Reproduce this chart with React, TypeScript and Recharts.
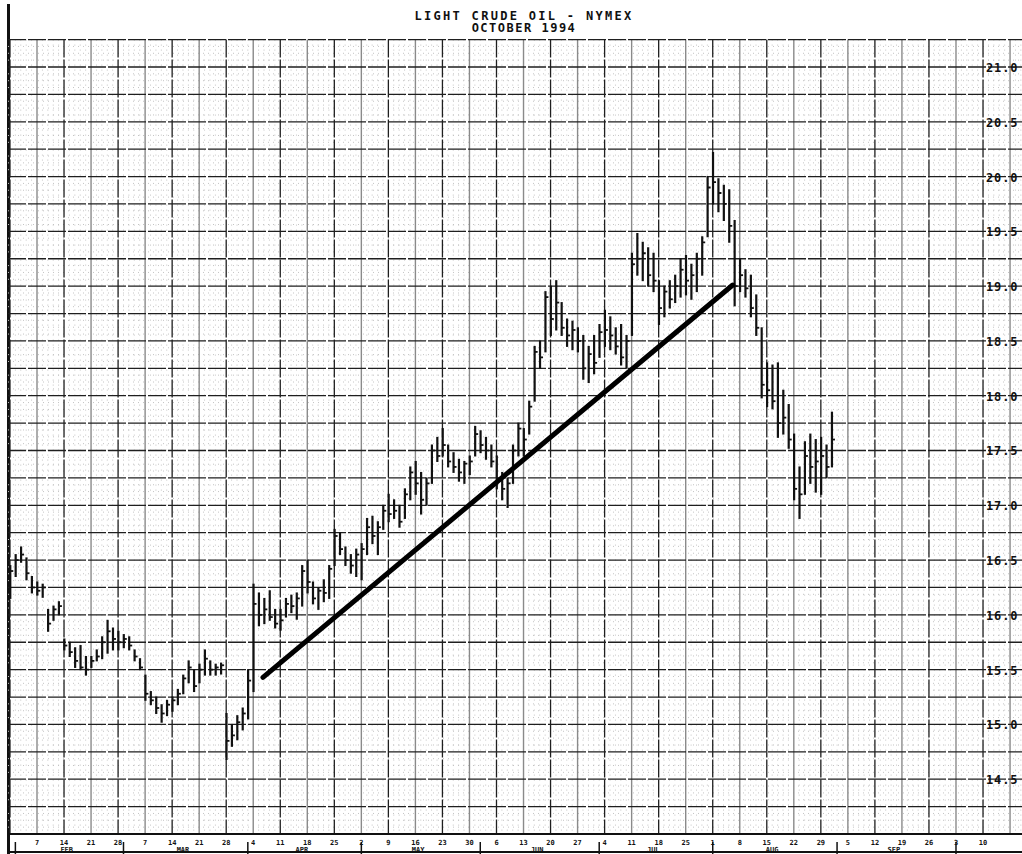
import React from 'react'
import { ComposedChart, Bar, XAxis, YAxis, CartesianGrid, ReferenceLine } from 'recharts'

// daily bars, one row per week (Mon..Fri), starting Mon Jan 31 1994
const highs = [
  16.45, 16.55, 16.62, 16.52, 16.35,
  16.30, 16.28, 16.05, 16.08, 16.12,
  15.78, 15.75, 15.70, 15.72, 15.62,
  15.62, 15.68, 15.80, 15.95, 15.88,
  15.85, 15.82, 15.80, 15.68, 15.60,
  15.45, 15.30, 15.25, 15.18, 15.22,
  15.25, 15.32, 15.45, 15.58, 15.50,
  15.55, 15.68, 15.58, 15.55, 15.56,
  15.10, 15.00, 15.08, 15.15, 15.50,
  16.28, 16.20, 16.15, 16.22, 16.05,
  16.05, 16.15, 16.18, 16.20, 16.45,
  16.50, 16.30, 16.25, 16.32, 16.45,
  16.78, 16.75, 16.62, 16.55, 16.60,
  16.65, 16.88, 16.90, 16.85, 17.00,
  17.10, 17.05, 17.00, 17.15, 17.35,
  17.40, 17.30, 17.25, 17.55, 17.62,
  17.70, 17.55, 17.48, 17.42, 17.40,
  17.45, 17.72, 17.68, 17.62, 17.55,
  17.45, 17.30, 17.25, 17.55, 17.75,
  17.70, 17.95, 18.45, 18.50, 18.95,
  19.00, 19.05, 18.85, 18.70, 18.68,
  18.62, 18.55, 18.45, 18.55, 18.65,
  18.78, 18.72, 18.62, 18.65, 18.55,
  19.30, 19.48, 19.40, 19.35, 19.30,
  19.05, 19.00, 19.05, 19.10, 19.25,
  19.28, 19.20, 19.30, 19.45, 20.00,
  20.22, 19.98, 19.92, 19.88, 19.60,
  19.25, 19.15, 19.10, 18.92, 18.62,
  18.30, 18.28, 18.30, 18.05, 17.92,
  17.65, 17.35, 17.58, 17.65, 17.60,
  17.62, 17.55, 17.85,
]

const lows = [
  16.15, 16.35, 16.48, 16.32, 16.20,
  16.18, 16.16, 15.85, 15.95, 16.00,
  15.68, 15.62, 15.52, 15.50, 15.45,
  15.52, 15.58, 15.60, 15.65, 15.68,
  15.68, 15.70, 15.68, 15.58, 15.50,
  15.22, 15.18, 15.10, 15.02, 15.08,
  15.12, 15.18, 15.28, 15.38, 15.30,
  15.38, 15.45, 15.45, 15.45, 15.46,
  14.68, 14.80, 14.86, 14.95, 15.05,
  15.30, 15.90, 15.92, 15.95, 15.88,
  15.86, 15.98, 16.02, 15.96, 16.08,
  16.20, 16.10, 16.05, 16.12, 16.15,
  16.45, 16.55, 16.45, 16.38, 16.35,
  16.32, 16.55, 16.65, 16.55, 16.78,
  16.85, 16.88, 16.80, 16.88, 17.05,
  17.10, 16.92, 17.00, 17.20, 17.40,
  17.45, 17.35, 17.30, 17.22, 17.20,
  17.28, 17.45, 17.48, 17.42, 17.35,
  17.15, 17.05, 16.98, 17.20, 17.45,
  17.45, 17.65, 17.95, 18.25, 18.40,
  18.55, 18.60, 18.55, 18.45, 18.42,
  18.40, 18.15, 18.12, 18.20, 18.35,
  18.45, 18.42, 18.38, 18.28, 18.25,
  18.55, 19.10, 19.05, 19.00, 18.95,
  18.65, 18.72, 18.80, 18.85, 18.90,
  18.92, 18.88, 18.95, 19.10, 19.45,
  19.75, 19.68, 19.60, 19.40, 18.82,
  18.95, 18.90, 18.72, 18.55, 17.98,
  17.90, 17.88, 17.62, 17.65, 17.52,
  17.05, 16.88, 17.10, 17.20, 17.12,
  17.10, 17.25, 17.35,
]

const closes = [
  16.40, 16.50, 16.55, 16.38, 16.25,
  16.22, 16.25, 15.92, 16.05, 16.08,
  15.72, 15.66, 15.58, 15.52, 15.50,
  15.58, 15.62, 15.75, 15.85, 15.78,
  15.75, 15.78, 15.72, 15.62, 15.52,
  15.28, 15.22, 15.15, 15.10, 15.18,
  15.22, 15.28, 15.42, 15.52, 15.35,
  15.50, 15.60, 15.50, 15.52, 15.54,
  14.85, 14.90, 15.02, 15.10, 15.40,
  16.10, 16.00, 16.05, 15.98, 15.92,
  15.95, 16.10, 16.08, 16.15, 16.40,
  16.30, 16.15, 16.22, 16.20, 16.42,
  16.72, 16.60, 16.50, 16.45, 16.55,
  16.60, 16.80, 16.72, 16.80, 16.95,
  16.92, 16.95, 16.85, 17.10, 17.30,
  17.20, 17.05, 17.20, 17.50, 17.45,
  17.55, 17.40, 17.35, 17.30, 17.38,
  17.40, 17.65, 17.55, 17.50, 17.40,
  17.22, 17.15, 17.20, 17.50, 17.70,
  17.60, 17.90, 18.40, 18.35, 18.90,
  18.70, 18.85, 18.62, 18.55, 18.60,
  18.50, 18.25, 18.38, 18.30, 18.58,
  18.60, 18.55, 18.45, 18.35, 18.50,
  19.20, 19.25, 19.30, 19.10, 19.05,
  18.80, 18.95, 18.88, 19.00, 19.15,
  19.05, 19.10, 19.25, 19.40, 19.90,
  19.95, 19.85, 19.75, 19.55, 19.00,
  19.10, 18.98, 18.80, 18.62, 18.10,
  18.05, 17.95, 17.75, 17.80, 17.60,
  17.15, 17.10, 17.45, 17.35, 17.40,
  17.45, 17.35, 17.60,
]

// Monday labels, Jan 31 .. Oct 17
const dayLabels = [
  '', '7', '14', '21', '28',
  '7', '14', '21', '28',
  '4', '11', '18', '25',
  '2', '9', '16', '23', '30',
  '6', '13', '20', '27',
  '4', '11', '18', '25',
  '1', '8', '15', '22', '29',
  '5', '12', '19', '26',
  '3', '10', '', '',
]

const monthNames = ['FEB', 'MAR', 'APR', 'MAY', 'JUN', 'JUL', 'AUG', 'SEP']
// trading-day index of the first session of each month (Feb .. Oct)
const monthStarts = [1, 21, 44, 65, 87, 109, 130, 153, 175]

const priceTicks = [
  14.0, 14.25, 14.5, 14.75, 15.0, 15.25, 15.5, 15.75, 16.0, 16.25,
  16.5, 16.75, 17.0, 17.25, 17.5, 17.75, 18.0, 18.25, 18.5, 18.75,
  19.0, 19.25, 19.5, 19.75, 20.0, 20.25, 20.5, 20.75, 21.0, 21.25,
]

const trendLine = [
  { t: 46.8, price: 15.43 },
  { t: 133.7, price: 19.01 },
]

const X_DOMAIN = [-0.364, 194.24]
const Y_DOMAIN = [14, 21.25]

const data = closes.map((c, i) => ({ t: i, range: [lows[i], highs[i]], close: c }))
const weekTicks = dayLabels.map((_, i) => i * 5)
const darkWeeks = weekTicks.filter((_, i) => i % 2 === 0)
const greyWeeks = weekTicks.filter((_, i) => i % 2 === 1)
const monthCenters = monthNames.map((_, i) => (monthStarts[i] + monthStarts[i + 1] - 1) / 2)
const minorDays = Array.from({ length: 195 }, (_, i) => i).filter((d) => d % 5 !== 0)
const minorPrices = priceTicks.slice(0, -1).flatMap((p) => [p + 0.0625, p + 0.125, p + 0.1875])

const MONO = '"DejaVu Sans Mono", monospace'

// grid positions: use the axis scale when the grid gets it, else map through the plot offset
const xGrid = (values: number[]) => ({ xAxis, offset }: any) => {
  if (xAxis && typeof xAxis.scale === 'function') return values.map((v) => xAxis.scale(v))
  return values.map((v) => offset.left + ((v - X_DOMAIN[0]) / (X_DOMAIN[1] - X_DOMAIN[0])) * offset.width)
}
const yGrid = (values: number[]) => ({ yAxis, offset }: any) => {
  if (yAxis && typeof yAxis.scale === 'function') return values.map((v) => yAxis.scale(v))
  return values.map((v) => offset.top + ((Y_DOMAIN[1] - v) / (Y_DOMAIN[1] - Y_DOMAIN[0])) * offset.height)
}

function OhlcBar(props: any) {
  const { x, y, width, height, payload } = props
  if (x == null || y == null) return null
  const top = Math.min(y, y + height)
  const h = Math.abs(height)
  const [lo, hi] = payload.range
  const cx = x + width / 2
  const cy = hi === lo ? top : top + ((hi - payload.close) / (hi - lo)) * h
  return (
    <g>
      <line x1={cx} x2={cx} y1={top - 0.5} y2={top + h + 0.5} stroke="#111" strokeWidth={2.2} />
      <line x1={cx} x2={cx + 3} y1={cy} y2={cy} stroke="#111" strokeWidth={1.8} />
    </g>
  )
}

function DayTick(props: any) {
  const { x, y, payload } = props
  const label = dayLabels[Math.round(payload.value / 5)] ?? ''
  if (!label) return null
  return (
    <text x={x} y={y + 11} textAnchor="middle" style={{ fontSize: 7, fontWeight: 700, fontFamily: MONO, fill: '#111' }}>
      {label}
    </text>
  )
}

function MonthTick(props: any) {
  const { x, y, payload } = props
  if (monthStarts.includes(payload.value)) {
    return <line x1={x} x2={x} y1={y - 2} y2={y + 10} stroke="#111" strokeWidth={1.5} />
  }
  const i = monthCenters.indexOf(payload.value)
  if (i < 0) return null
  return (
    <text x={x} y={y + 8} textAnchor="middle" style={{ fontSize: 7, fontWeight: 700, fontFamily: MONO, fill: '#111' }}>
      {monthNames[i]}
    </text>
  )
}

function PriceTick(props: any) {
  const { y, payload } = props
  const v = payload.value
  if (v < 14.5 || v > 21 || Math.round(v * 2) !== v * 2) return null
  return (
    <text x={986} y={y + 5} style={{ fontSize: 12, fontWeight: 700, fontFamily: MONO, fill: '#111', letterSpacing: 0.9 }}>
      {v.toFixed(1)}
    </text>
  )
}

const titleStyle: React.CSSProperties = {
  position: 'absolute', left: 0, width: 1048, textAlign: 'center', fontFamily: MONO,
  fontWeight: 700, fontSize: 12, lineHeight: '12px', color: '#111', whiteSpace: 'nowrap',
}

export default function App() {
  return (
    <div style={{ position: 'fixed', left: 0, top: 0, width: 1022, height: 854, overflow: 'hidden', background: '#fff' }}>
      <div style={{ ...titleStyle, top: 10, letterSpacing: 2.3 }}>LIGHT CRUDE OIL - NYMEX</div>
      <div style={{ ...titleStyle, top: 22, letterSpacing: 1.5 }}>OCTOBER 1994</div>
      <div style={{ position: 'absolute', left: 7, top: 4, width: 3, height: 850, background: '#111' }} />
      <div style={{ position: 'absolute', left: 8, top: 851, width: 1014, height: 2, background: '#111' }} />
      <div style={{ position: 'absolute', left: 0, top: 0 }}>
        <ComposedChart width={1060} height={854} data={data} margin={{ top: 39.6, right: 0, left: 8, bottom: 0 }}>
          <CartesianGrid
            xAxisId="d"
            yAxisId="p"
            stroke="#c4c4c4"
            strokeDasharray="1 4"
            horizontalCoordinatesGenerator={yGrid(minorPrices)}
            verticalCoordinatesGenerator={xGrid(minorDays)}
          />
          <CartesianGrid
            xAxisId="d"
            yAxisId="p"
            stroke="#8a8a8a"
            strokeWidth={1.4}
            horizontal={false}
            verticalCoordinatesGenerator={xGrid(greyWeeks)}
          />
          <CartesianGrid
            xAxisId="d"
            yAxisId="p"
            stroke="#1f1f1f"
            strokeWidth={1.3}
            strokeDasharray="18 2"
            horizontalCoordinatesGenerator={yGrid(priceTicks)}
            verticalCoordinatesGenerator={xGrid(darkWeeks)}
          />
          <XAxis
            xAxisId="d"
            dataKey="t"
            type="number"
            domain={X_DOMAIN}
            ticks={weekTicks}
            interval={0}
            tick={<DayTick />}
            tickLine={false}
            tickSize={0}
            tickMargin={0}
            height={10}
            axisLine={{ stroke: '#111', strokeWidth: 2 }}
            allowDataOverflow
          />
          <XAxis
            xAxisId="m"
            dataKey="t"
            type="number"
            domain={X_DOMAIN}
            ticks={[...monthStarts, ...monthCenters].sort((a, b) => a - b)}
            interval={0}
            tick={<MonthTick />}
            tickLine={false}
            tickSize={0}
            tickMargin={0}
            height={10}
            axisLine={false}
            allowDataOverflow
          />
          <YAxis
            yAxisId="p"
            orientation="right"
            mirror
            width={1}
            type="number"
            domain={Y_DOMAIN}
            ticks={priceTicks}
            interval={0}
            tick={<PriceTick />}
            tickLine={false}
            axisLine={false}
            allowDataOverflow
          />
          <Bar xAxisId="d" yAxisId="p" dataKey="range" barSize={2} shape={<OhlcBar />} isAnimationActive={false} />
          <ReferenceLine
            xAxisId="d"
            yAxisId="p"
            segment={trendLine.map((p) => ({ x: p.t, y: p.price }))}
            stroke="#000"
            strokeWidth={5}
            strokeLinecap="round"
          />
        </ComposedChart>
      </div>
    </div>
  )
}
